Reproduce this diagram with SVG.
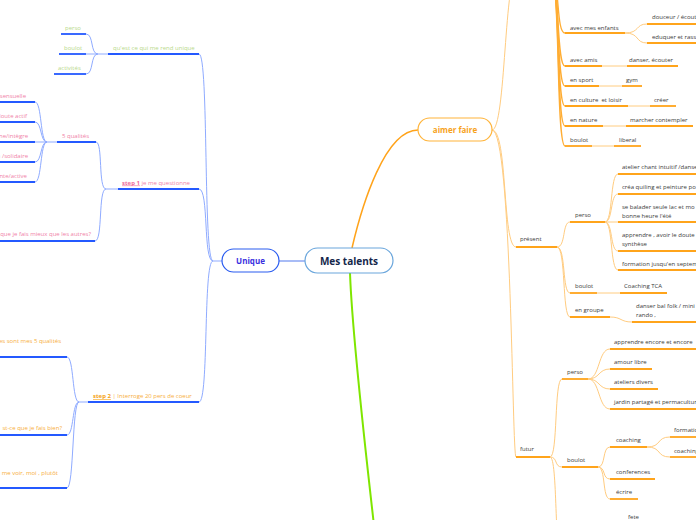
<svg xmlns="http://www.w3.org/2000/svg" width="696" height="520" viewBox="0 0 696 520">
<style>
text{font-family:"Open Sans","DejaVu Sans",sans-serif;font-size:6px}
.d{fill:#3a3a3a}
.g{fill:#b8d98b}
.p{fill:#f07fa8}
.o{fill:#f7ae3c}
.e{text-anchor:end}
.ob{stroke:#ffa41b;stroke-width:1.8;fill:none}
.bb{stroke:#2459ff;stroke-width:1.8;fill:none}
.oc{stroke:#ffcc80;stroke-width:1;fill:none}
.bc{stroke:#8fabff;stroke-width:1;fill:none}
.st{font-weight:bold;text-decoration:underline}
</style>
<rect width="696" height="520" fill="#fff"/>
<g id="connectors">
<path d="M352,248 C362,205 385,130 418,130" stroke="#ffa31a" stroke-width="1.5" fill="none"/>
<path d="M350,273 C352,330 364,440 378,560" stroke="#7fe600" stroke-width="2" fill="none"/>
<path d="M279,261 L305,261" stroke="#6f8ff0" stroke-width="1.2" fill="none"/>
<g class="oc">
<path d="M492,130 C506,130 504,-30 518,-30"/>
<path d="M492,130 C508,130 502,247 516,247"/>
<path d="M492,130 C512,130 512,457 516,457"/>
<path d="M625,33 C640,33 635,24 647,24"/>
<path d="M625,33 C640,33 635,43 647,43"/>
<path d="M602,66 H627 M599,86 H622 M628,106 H650 M603,126 H626 M592,146 H614"/>
<path d="M557,247 C566,247 562,222 570,222"/>
<path d="M557,247 C566,247 562,293 570,293"/>
<path d="M557,247 C566,247 562,317 570,317"/>
<path d="M605,222 C613,222 610,174 618,174"/>
<path d="M605,222 C613,222 610,194 618,194"/>
<path d="M605,222 H618"/>
<path d="M605,222 C613,222 610,251 618,251"/>
<path d="M605,222 C613,222 610,270 618,270"/>
<path d="M597,293 H620"/>
<path d="M610,317 C622,317 620,322 632,322"/>
<path d="M550,457 C558,457 554,379 562,379"/>
<path d="M550,457 C558,457 554,467 562,467"/>
<path d="M550,457 C558,457 554,560 562,560"/>
<path d="M588,379 C600,379 598,349 610,349"/>
<path d="M588,379 C600,379 598,369 610,369"/>
<path d="M588,379 C600,379 598,389 610,389"/>
<path d="M588,379 C600,379 598,409 610,409"/>
<path d="M598,467 C606,467 602,447 610,447"/>
<path d="M598,467 C606,467 602,479 610,479"/>
<path d="M598,467 C606,467 602,499 610,499"/>
<path d="M647,447 C662,447 656,437 670,437"/>
<path d="M647,447 C662,447 656,457 670,457"/>
</g>
<g stroke="#ffad33" stroke-width="1.3" fill="none">
<path d="M552,-20 C560,-20 556,33 565,33"/>
<path d="M552,-20 C560,-20 556,66 565,66"/>
<path d="M552,-20 C560,-20 556,86 565,86"/>
<path d="M552,-20 C560,-20 556,106 565,106"/>
<path d="M552,-20 C560,-20 556,126 565,126"/>
<path d="M552,-20 C560,-20 556,146 565,146"/>
</g>
<g class="bc">
<path d="M222,261 H213"/>
<path d="M213,261 C203,261 209,54 199,54"/>
<path d="M213,261 C203,261 209,189 199,189"/>
<path d="M213,261 C203,261 209,402 199,402"/>
<path d="M108,54 H98"/>
<path d="M98,54 C90,54 94,34 86,34"/>
<path d="M98,54 H86"/>
<path d="M98,54 C90,54 94,74 86,74"/>
<path d="M118,189 H106"/>
<path d="M106,189 C98,189 103,142 96,142"/>
<path d="M106,189 C98,189 103,241 95,241"/>
<path d="M57,142 H47"/>
<path d="M47,142 C40,142 42,102 35,102"/>
<path d="M47,142 C40,142 42,122 35,122"/>
<path d="M47,142 H35"/>
<path d="M47,142 C40,142 42,162 35,162"/>
<path d="M47,142 C40,142 42,182 35,182"/>
<path d="M88,402 H79"/>
<path d="M79,402 C72,402 74,357 67,357"/>
<path d="M79,402 C72,402 74,435 67,435"/>
<path d="M79,402 C72,402 74,488 67,488"/>
</g>
</g>
<g id="mes-talents">
<rect x="305" y="248" width="88" height="25" rx="12.5" fill="#fff" stroke="#6aa6dc" stroke-width="1.2"/>
<text x="349" y="264.5" text-anchor="middle" style="font-size:10px;font-weight:bold;fill:#14264a">Mes talents</text>
</g>
<g id="unique">
<rect x="222" y="249" width="57" height="23" rx="11.5" fill="#fff" stroke="#2a5cf0" stroke-width="1.2"/>
<text x="250.5" y="263.5" text-anchor="middle" style="font-size:8px;font-weight:bold;fill:#3a2fe0">Unique</text>
</g>
<g id="aimer-faire">
<rect x="418" y="118" width="74" height="23" rx="11.5" fill="#fff" stroke="#ffb43a" stroke-width="1.2"/>
<text x="455" y="132.8" text-anchor="middle" style="font-size:8px;font-weight:bold;fill:#f7a21b">aimer faire</text>
</g>
<g id="avec-mes-enfants"><text class="d" x="570" y="29.5">avec mes enfants</text><path class="ob" d="M565,33 H625"/></g>
<g id="douceur"><text class="d" x="652" y="18.5">douceur / écoute</text><path class="ob" d="M647,24 H696"/></g>
<g id="eduquer"><text class="d" x="652" y="39">eduquer et rass</text><path class="ob" d="M647,43 H696"/></g>
<g id="avec-amis"><text class="d" x="570" y="61.5">avec amis</text><path class="ob" d="M565,66 H602"/></g>
<g id="danser-ecouter"><text class="d" x="629" y="61.5">danser, écouter</text><path class="ob" d="M627,66 H678"/></g>
<g id="en-sport"><text class="d" x="570" y="81.5">en sport</text><path class="ob" d="M565,86 H599"/></g>
<g id="gym"><text class="d" x="626" y="81.5">gym</text><path class="ob" d="M622,86 H642"/></g>
<g id="en-culture"><text class="d" x="570" y="101.5" xml:space="preserve">en culture  et loisir</text><path class="ob" d="M565,106 H628"/></g>
<g id="creer"><text class="d" x="654" y="101.5">créer</text><path class="ob" d="M650,106 H676"/></g>
<g id="en-nature"><text class="d" x="570" y="121.5">en nature</text><path class="ob" d="M565,126 H603"/></g>
<g id="marcher"><text class="d" x="630" y="121.5">marcher contempler</text><path class="ob" d="M626,126 H693"/></g>
<g id="boulot-passe"><text class="d" x="570" y="141.5">boulot</text><path class="ob" d="M565,146 H592"/></g>
<g id="liberal"><text class="d" x="619" y="141.5">liberal</text><path class="ob" d="M614,146 H641"/></g>
<g id="present"><text class="d" x="520" y="241">présent</text><path class="ob" d="M516,247 H557"/></g>
<g id="present-perso"><text class="d" x="575" y="217">perso</text><path class="ob" d="M570,222 H605"/></g>
<g id="atelier-chant"><text class="d" x="622" y="169">atelier chant intuitif /danse</text><path class="ob" d="M618,174 H696"/></g>
<g id="crea-quiling"><text class="d" x="622" y="189">créa quiling et peinture po</text><path class="ob" d="M618,194 H696"/></g>
<g id="se-balader"><text class="d" x="622" y="209">se balader seule lac et mo</text><text class="d" x="622" y="217.5">bonne heure l'été</text><path class="ob" d="M618,222 H696"/></g>
<g id="apprendre-doute"><text class="d" x="622" y="237">apprendre , avoir le doute</text><text class="d" x="622" y="246">synthèse</text><path class="ob" d="M618,251 H696"/></g>
<g id="formation-sept"><text class="d" x="622" y="266">formation jusqu'en septem</text><path class="ob" d="M618,270 H696"/></g>
<g id="present-boulot"><text class="d" x="575" y="288">boulot</text><path class="ob" d="M570,293 H597"/></g>
<g id="coaching-tca"><text class="d" x="624" y="288">Coaching TCA</text><path class="ob" d="M620,293 H667"/></g>
<g id="en-groupe"><text class="d" x="575" y="312">en groupe</text><path class="ob" d="M570,317 H610"/></g>
<g id="danser-bal"><text class="d" x="636" y="308">danser bal folk / mini</text><text class="d" x="636" y="316.5">rando ,</text><path class="ob" d="M632,322 H696"/></g>
<g id="futur"><text class="d" x="520" y="451">futur</text><path class="ob" d="M516,457 H550"/></g>
<g id="futur-perso"><text class="d" x="567" y="374">perso</text><path class="ob" d="M562,379 H588"/></g>
<g id="apprendre-encore"><text class="d" x="614" y="344">apprendre encore et encore</text><path class="ob" d="M610,349 H696"/></g>
<g id="amour-libre"><text class="d" x="614" y="364">amour libre</text><path class="ob" d="M610,369 H652"/></g>
<g id="ateliers-divers"><text class="d" x="614" y="384">ateliers divers</text><path class="ob" d="M610,389 H658"/></g>
<g id="jardin"><text class="d" x="614" y="404">jardin partagé et permacultur</text><path class="ob" d="M610,409 H696"/></g>
<g id="futur-boulot"><text class="d" x="567" y="461.5">boulot</text><path class="ob" d="M562,467 H598"/></g>
<g id="coaching"><text class="d" x="616" y="442">coaching</text><path class="ob" d="M610,447 H647"/></g>
<g id="formatio"><text class="d" x="674" y="432">formatio</text><path class="ob" d="M670,437 H696"/></g>
<g id="coaching2"><text class="d" x="674" y="452.5">coaching</text><path class="ob" d="M670,457 H696"/></g>
<g id="conferences"><text class="d" x="616" y="474">conferences</text><path class="ob" d="M610,479 H655"/></g>
<g id="ecrire"><text class="d" x="616" y="494">écrire</text><path class="ob" d="M610,499 H638"/></g>
<g id="fete"><text class="d" x="628" y="519">fete</text></g>
<g id="rend-unique"><text class="g" x="113" y="50">qu'est ce qui me rend unique</text><path class="bb" d="M108,54 H199"/></g>
<g id="u-perso"><text class="g" x="65" y="30">perso</text><path class="bb" d="M61,34 H86"/></g>
<g id="u-boulot"><text class="g" x="64" y="50">boulot</text><path class="bb" d="M59,54 H86"/></g>
<g id="u-activites"><text class="g" x="58" y="70">activités</text><path class="bb" d="M54,74 H86"/></g>
<g id="step1"><text class="p" x="122" y="184.5"><tspan class="st" fill="#ee6a9a">step 1</tspan> je me questionne</text><path class="bb" d="M118,189 H199"/></g>
<g id="cinq-qualites"><text class="p" x="62" y="137.5">5 qualités</text><path class="bb" d="M57,142 H96"/></g>
<g id="q1"><text class="p e" x="26" y="97.5">sensuelle</text><path class="bb" d="M0,102 H35"/></g>
<g id="q2"><text class="p e" x="27" y="117.5">doute actif</text><path class="bb" d="M0,122 H35"/></g>
<g id="q3"><text class="p e" x="28" y="137.5">ne/intègre</text><path class="bb" d="M0,142 H35"/></g>
<g id="q4"><text class="p e" x="28" y="157.5">a /solidaire</text><path class="bb" d="M0,162 H35"/></g>
<g id="q5"><text class="p e" x="27" y="177.5">nte/active</text><path class="bb" d="M0,182 H35"/></g>
<g id="mieux"><text class="p e" x="91" y="235.5">que je fais mieux que les autres?</text><path class="bb" d="M0,241 H95"/></g>
<g id="step2"><text class="o" x="93" y="398"><tspan class="st" fill="#f5a214">step 2</tspan> | Interroge 20 pers de coeur</text><path class="bb" d="M88,402 H199"/></g>
<g id="s2-qualites"><text class="o e" x="61" y="343">es sont mes 5 qualités</text><path class="bb" d="M0,357 H67"/></g>
<g id="s2-bien"><text class="o e" x="62" y="430">st-ce que je fais bien?</text><path class="bb" d="M0,435 H67"/></g>
<g id="s2-voir"><text class="o e" x="58" y="475">u me voir, moi , plutôt</text><path class="bb" d="M0,488 H67"/></g>
</svg>
